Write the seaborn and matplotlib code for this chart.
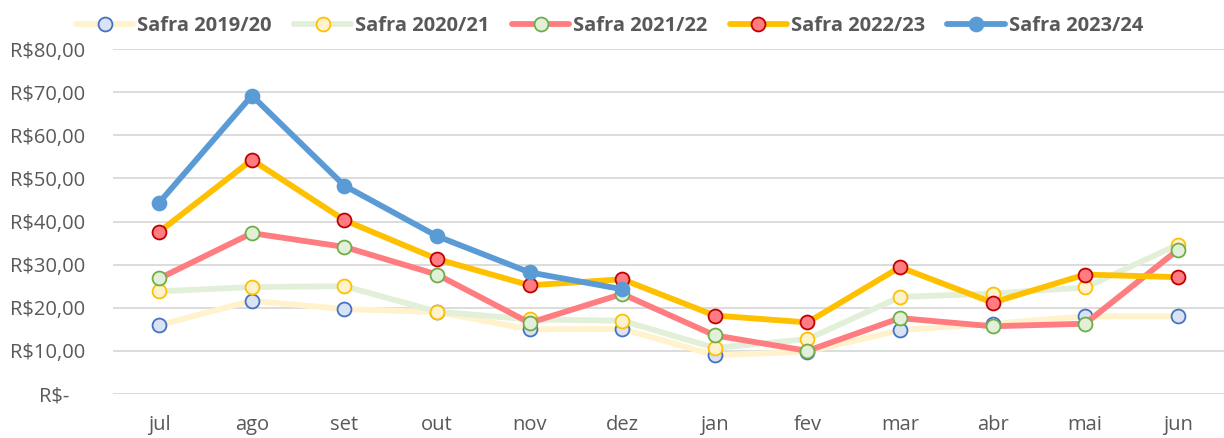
import pandas as pd
import matplotlib.pyplot as plt
import seaborn as sns

# Meses da safra (jul -> jun)
meses = ['jul', 'ago', 'set', 'out', 'nov', 'dez', 'jan', 'fev', 'mar', 'abr', 'mai', 'jun']

safra_2019_20 = [16.0, 21.6, 19.7, 19.0, 15.0, 15.1, 9.0, 9.8, 14.8, 16.3, 18.0, 18.0]
safra_2020_21 = [23.8, 24.8, 25.0, 19.1, 17.3, 17.0, 10.7, 12.7, 22.5, 23.3, 24.7, 34.6]
safra_2021_22 = [26.8, 37.3, 34.1, 27.7, 16.5, 23.2, 13.6, 10.0, 17.6, 15.7, 16.3, 33.4]
safra_2022_23 = [37.6, 54.3, 40.3, 31.3, 25.2, 26.6, 18.2, 16.6, 29.4, 21.2, 27.7, 27.1]
safra_2023_24 = [44.4, 69.2, 48.3, 36.6, 28.2, 24.3]

series = {
    'Safra 2019/20': safra_2019_20,
    'Safra 2020/21': safra_2020_21,
    'Safra 2021/22': safra_2021_22,
    'Safra 2022/23': safra_2022_23,
    'Safra 2023/24': safra_2023_24,
}

# line colour, marker face, marker edge
estilos = {
    'Safra 2019/20': ('#FFF2CC', '#DAE3F3', '#4472C4'),
    'Safra 2020/21': ('#E2F0D9', '#FFF2CC', '#FFC000'),
    'Safra 2021/22': ('#FF7C80', '#E2F0D9', '#70AD47'),
    'Safra 2022/23': ('#FFC000', '#FF7C80', '#C00000'),
    'Safra 2023/24': ('#5B9BD5', '#5B9BD5', '#5B9BD5'),
}

rows = []
for nome, valores in series.items():
    for i, v in enumerate(valores):
        rows.append({'safra': nome, 'pos': i, 'valor': v})
df = pd.DataFrame(rows)

sns.set_style('white')
plt.rcParams['font.family'] = ['Open Sans', 'DejaVu Sans']

fig = plt.figure(figsize=(12.24, 4.38), dpi=100)
ax = fig.add_axes([113 / 1224, 1 - 394 / 438, 1 - 113 / 1224, (394 - 49) / 438])

for k, nome in enumerate(series):
    cor, face, borda = estilos[nome]
    sns.lineplot(data=df[df['safra'] == nome], x='pos', y='valor', ax=ax,
                 color=cor, linewidth=4.2, marker='o', markersize=10,
                 markerfacecolor=face, markeredgecolor=borda, markeredgewidth=1.3,
                 label=nome, zorder=3 + k)

ax.set_xlim(-0.5, 11.5)
ax.set_ylim(0, 80)
ax.set_yticks(range(0, 81, 10))
ax.set_yticklabels(['R$-   '] + [f'R${v},00' for v in range(10, 81, 10)])
ax.set_xticks(range(12))
ax.set_xticklabels(meses)
ax.set_xlabel('')
ax.set_ylabel('')
ax.tick_params(axis='y', pad=20, labelsize=14.5, colors='#595959', length=0)
ax.tick_params(axis='x', pad=15, labelsize=14.5, colors='#595959', length=0)
ax.grid(axis='y', color='#D9D9D9', linewidth=1.3)
ax.grid(axis='x', visible=False)
sns.despine(ax=ax, left=True, bottom=True, top=True, right=True)

handles, labels = ax.get_legend_handles_labels()
ax.get_legend().remove()
leg = fig.legend(handles, labels, loc='upper center', bbox_to_anchor=(0.498, 1.005),
                 ncol=5, frameon=False, handlelength=2.85, columnspacing=1.1,
                 handletextpad=0.2, prop={'weight': 'bold', 'size': 14.5})
for t in leg.get_texts():
    t.set_color('#595959')

fig.savefig('out.png', dpi=100)
